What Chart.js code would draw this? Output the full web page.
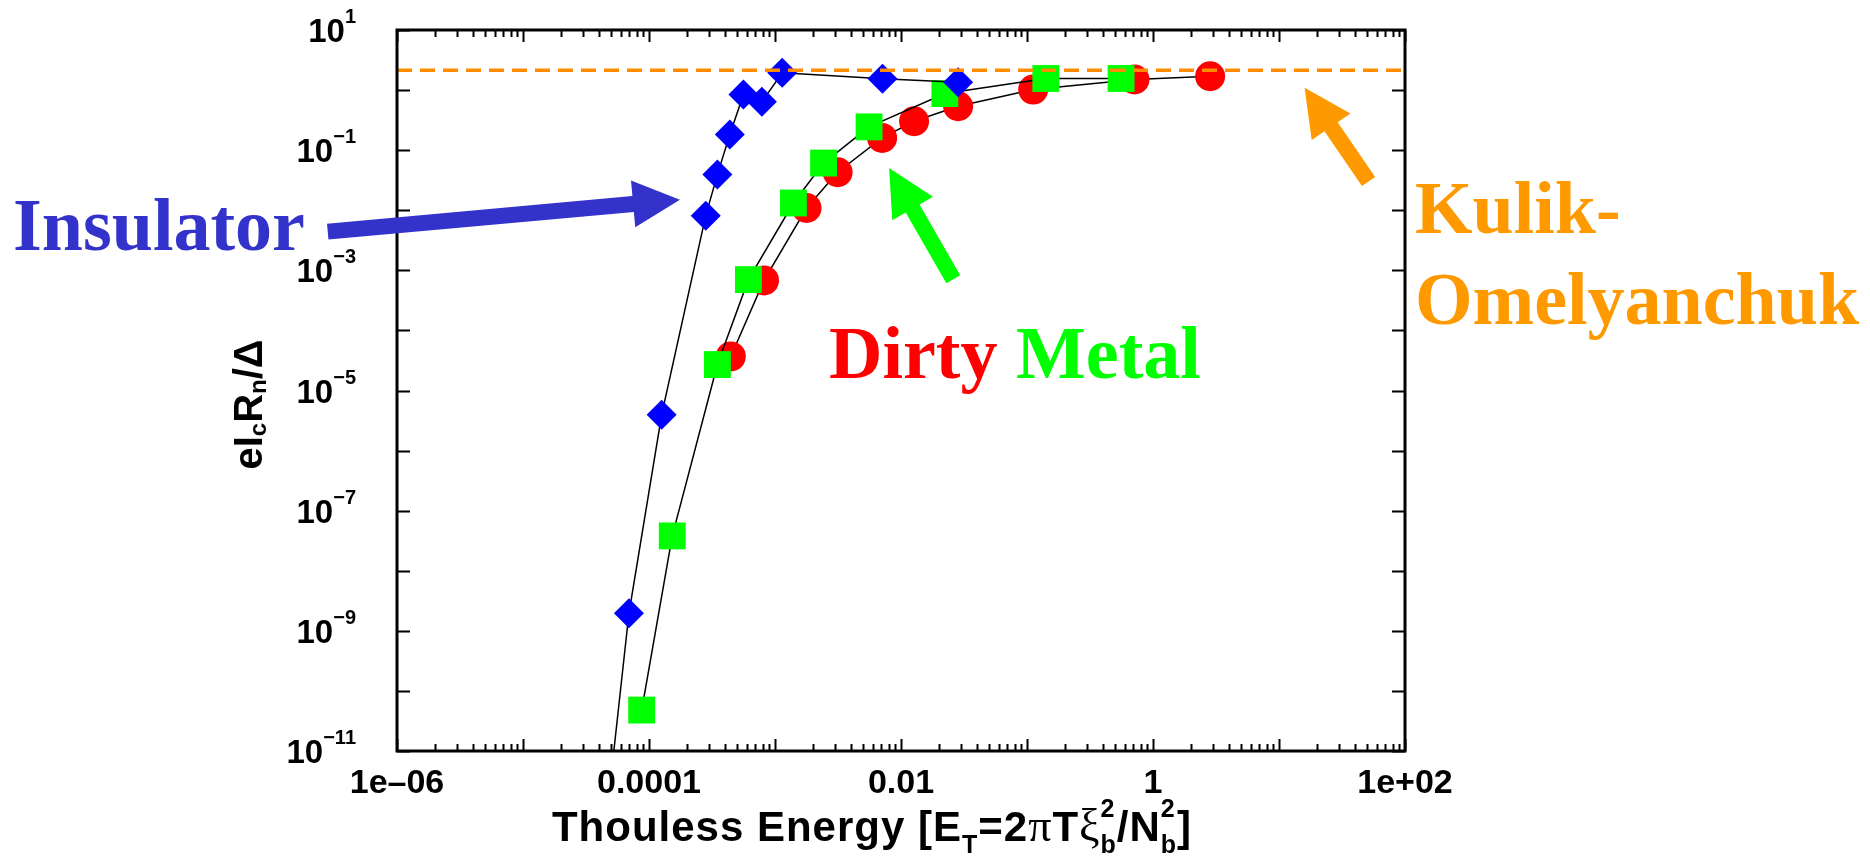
<!DOCTYPE html>
<html>
<head>
<meta charset="utf-8">
<title>Critical current vs Thouless energy</title>
<script src="https://cdn.jsdelivr.net/npm/chart.js@4.4.1/dist/chart.umd.min.js"></script>
<style>
  html, body { margin: 0; padding: 0; background: #fff; }
  canvas { display: block; }
</style>
</head>
<body>
<canvas id="chart" width="1870" height="856"></canvas>
<script>
// Insulator (blue diamonds); first point lies below the plotted range, only its line shows
const insulatorE  = [5.0e-5, 6.93e-5, 1.26e-4, 2.82e-4, 3.49e-4, 4.38e-4, 5.62e-4, 7.87e-4, 1.14e-3, 7.13e-3, 2.84e-2];
const insulatorIc = [3.8e-12, 1.96e-9, 3.94e-6, 8.13e-3, 3.92e-2, 0.182, 0.843, 0.637, 1.94, 1.54, 1.35];

// Metal (green squares)
const metalE  = [8.75e-5, 1.53e-4, 3.49e-4, 6.15e-4, 1.40e-3, 2.43e-3, 5.58e-3, 2.23e-2, 0.141, 0.558];
const metalIc = [4.8e-11, 3.8e-8, 2.7e-5, 7.0e-4, 1.32e-2, 6.1e-2, 0.244, 0.875, 1.56, 1.56];

// Dirty metal (red circles)
const dirtyE  = [4.46e-4, 8.18e-4, 1.78e-3, 3.14e-3, 7.08e-3, 1.27e-2, 2.84e-2, 0.112, 0.713, 2.84];
const dirtyIc = [3.69e-5, 6.8e-4, 1.09e-2, 4.29e-2, 0.160, 0.303, 0.538, 1.02, 1.50, 1.70];

// Kulik-Omelyanchuk limit
const koLimit = 2.14;

const xRange = [1e-6, 1e2];
const yRange = [1e-11, 1e1];
const xTickValues = [1e-6, 1e-4, 1e-2, 1, 1e2];
const xTickLabels = ['1e\u201306', '0.0001', '0.01', '1', '1e+02'];
const yTickExps = [1, -1, -3, -5, -7, -9, -11];

const SANS = '"Liberation Sans", Arial, Helvetica, sans-serif';
const SERIF = '"Liberation Serif", "Times New Roman", serif';

// arrows point at data, so they live in data coordinates
const arrowNotes = [
  { from: [2.82e-7, 4.41e-3], to: [1.76e-4, 1.50e-2], color: '#3333cc' },
  { from: [2.60e-2, 7.13e-4], to: [8.05e-3, 5.07e-2], color: '#00ff00' },
  { from: [51.4, 3.0e-2], to: [15.96, 1.089], color: '#ff9900' }
];

const textNotes = [
  { x: 13, y: 250, parts: [{ t: 'Insulator', color: '#3333cc' }] },
  { x: 829, y: 378, parts: [{ t: 'Dirty ', color: '#ff0000' }, { t: 'Metal', color: '#00ff00' }] },
  { x: 1415, y: 233, parts: [{ t: 'Kulik-', color: '#ff9900' }] },
  { x: 1415, y: 324, parts: [{ t: 'Omelyanchuk', color: '#ff9900' }] }
];

function toPoints(xs, ys) {
  return xs.map((x, i) => ({ x: x, y: ys[i] }));
}

// small rich-text helper for sub/superscripts
function partFont(p, base) {
  return `${p.weight || base.weight} ${p.size || base.size}px ${p.family || base.family}`;
}
function measureParts(ctx, parts, base) {
  let w = 0;
  parts.forEach(p => {
    if (p.stack) {
      w += Math.max(...p.stack.map(q => { ctx.font = partFont(q, base); return ctx.measureText(q.t).width; }));
    } else {
      ctx.font = partFont(p, base);
      w += ctx.measureText(p.t).width;
    }
  });
  return w;
}
function drawParts(ctx, parts, x, y, base, align) {
  const w = measureParts(ctx, parts, base);
  let cx = align === 'center' ? x - w / 2 : align === 'right' ? x - w : x;
  ctx.textAlign = 'left';
  ctx.textBaseline = 'alphabetic';
  const one = q => {
    ctx.font = partFont(q, base);
    ctx.fillStyle = q.color || base.color;
    ctx.fillText(q.t, cx, y + (q.dy || 0));
    return ctx.measureText(q.t).width;
  };
  parts.forEach(p => {
    if (p.stack) cx += Math.max(...p.stack.map(one));
    else cx += one(p);
  });
}

function drawArrow(ctx, x0, y0, x1, y1, color) {
  const shaft = 16, headLen = 47, headW = 47;
  const dx = x1 - x0, dy = y1 - y0, L = Math.hypot(dx, dy);
  const ux = dx / L, uy = dy / L, nx = -uy, ny = ux;
  const bx = x1 - ux * headLen, by = y1 - uy * headLen;
  ctx.beginPath();
  ctx.moveTo(x0 + nx * shaft / 2, y0 + ny * shaft / 2);
  ctx.lineTo(bx + nx * shaft / 2, by + ny * shaft / 2);
  ctx.lineTo(bx + nx * headW / 2, by + ny * headW / 2);
  ctx.lineTo(x1, y1);
  ctx.lineTo(bx - nx * headW / 2, by - ny * headW / 2);
  ctx.lineTo(bx - nx * shaft / 2, by - ny * shaft / 2);
  ctx.lineTo(x0 - nx * shaft / 2, y0 - ny * shaft / 2);
  ctx.closePath();
  ctx.fillStyle = color;
  ctx.fill();
}

// Frame, inward ticks, tick labels with exponents, axis titles and callouts
const framePlugin = {
  id: 'frame',
  afterDraw(chart) {
    const ctx = chart.ctx;
    const ca = chart.chartArea;
    const xs = chart.scales.x, ys = chart.scales.y;
    ctx.save();

    ctx.strokeStyle = '#000';
    ctx.lineWidth = 2;
    ctx.beginPath();
    for (let e = -6; e <= 2; e++) {
      for (let m = 1; m <= 9; m++) {
        const v = m * Math.pow(10, e);
        if (v > xRange[1] * 1.0001) break;
        const px = Math.round(xs.getPixelForValue(v)) + 0.5;
        const len = m === 1 ? 12 : 7;
        ctx.moveTo(px, ca.bottom); ctx.lineTo(px, ca.bottom - len);
        ctx.moveTo(px, ca.top); ctx.lineTo(px, ca.top + len);
      }
    }
    for (let e = -11; e <= 1; e++) {
      const py = Math.round(ys.getPixelForValue(Math.pow(10, e))) + 0.5;
      ctx.moveTo(ca.left, py); ctx.lineTo(ca.left + 13, py);
      ctx.moveTo(ca.right, py); ctx.lineTo(ca.right - 13, py);
    }
    ctx.stroke();

    ctx.lineWidth = 3;
    ctx.strokeRect(ca.left, ca.top, ca.right - ca.left, ca.bottom - ca.top);

    // y tick labels 10^n
    const tickBase = { weight: 'bold', size: 33, family: SANS, color: '#000' };
    yTickExps.forEach(e => {
      const py = ys.getPixelForValue(Math.pow(10, e));
      const expStr = e < 0 ? '\u2212' + Math.abs(e) : String(e);
      drawParts(ctx, [{ t: '10' }, { t: expStr, size: 20, dy: -19 }], ca.left - 41, py + 12, tickBase, 'right');
    });

    // x axis title
    const tBase = { weight: 'bold', size: 42, family: SANS, color: '#000' };
    const sub = t => ({ t: t, size: 25, dy: 12 });
    const sup = t => ({ t: t, size: 25, dy: -24 });
    ctx.letterSpacing = '1px';
    drawParts(ctx, [
      { t: 'Thouless Energy [E' }, sub('T'), { t: '=2' },
      { t: '\u03c0', family: SERIF, weight: 'normal', size: 46 }, { t: 'T' },
      { t: '\u03be', family: SERIF, weight: 'normal', size: 46 },
      { stack: [sub('b'), sup('2')] }, { t: '/N' },
      { stack: [sub('b'), sup('2')] }, { t: ']' }
    ], (ca.left + ca.right) / 2 - 29, ca.bottom + 90, tBase, 'center');
    ctx.letterSpacing = '0px';

    // y axis title, rotated
    ctx.save();
    ctx.translate(ca.left - 135, (ca.top + ca.bottom) / 2 + 14);
    ctx.rotate(-Math.PI / 2);
    drawParts(ctx, [
      { t: 'eI' }, { t: 'c', size: 24, dy: 4 }, { t: 'R' }, { t: 'n', size: 24, dy: 4 }, { t: '/\u0394' }
    ], 0, 0, { weight: 'bold', size: 40, family: SANS, color: '#000' }, 'center');
    ctx.restore();

    // callout arrows and labels
    arrowNotes.forEach(a => {
      drawArrow(ctx,
        xs.getPixelForValue(a.from[0]), ys.getPixelForValue(a.from[1]),
        xs.getPixelForValue(a.to[0]), ys.getPixelForValue(a.to[1]), a.color);
    });
    const noteBase = { weight: 'bold', size: 74, family: SERIF, color: '#000' };
    textNotes.forEach(n => drawParts(ctx, n.parts, n.x, n.y, noteBase, 'left'));

    ctx.restore();
  }
};

const seriesStyle = (color, style, radius) => ({
  showLine: true,
  borderColor: '#000',
  borderWidth: 1.5,
  pointStyle: style,
  pointRadius: radius,
  pointHoverRadius: radius,
  pointBackgroundColor: color,
  pointBorderColor: color,
  pointBorderWidth: 0
});

new Chart(document.getElementById('chart'), {
  type: 'scatter',
  data: {
    datasets: [
      {
        label: 'Kulik-Omelyanchuk',
        data: [{ x: xRange[0], y: koLimit }, { x: xRange[1], y: koLimit }],
        showLine: true,
        borderColor: '#ff8c00',
        borderWidth: 3.5,
        borderDash: [15, 8],
        pointRadius: 0
      },
      Object.assign({ label: 'Insulator', data: toPoints(insulatorE, insulatorIc) }, seriesStyle('#0000ff', 'rectRot', 15)),
      Object.assign({ label: 'Metal', data: toPoints(metalE, metalIc) }, seriesStyle('#00ff00', 'rect', 19)),
      Object.assign({ label: 'Dirty', data: toPoints(dirtyE, dirtyIc) }, seriesStyle('#ff0000', 'circle', 15))
    ]
  },
  options: {
    responsive: false,
    animation: false,
    events: [],
    layout: { padding: { top: 30, right: 465, left: 0, bottom: 0 } },
    plugins: { legend: { display: false }, tooltip: { enabled: false } },
    scales: {
      x: {
        type: 'logarithmic',
        min: xRange[0],
        max: xRange[1],
        grid: { display: false, drawTicks: false },
        border: { display: false },
        ticks: {
          autoSkip: false,
          maxRotation: 0,
          padding: 12,
          color: '#000',
          font: { family: SANS, size: 34, weight: 'bold' },
          callback: (v, i) => xTickLabels[i]
        },
        afterBuildTicks: s => { s.ticks = xTickValues.map(v => ({ value: v })); },
        afterFit: s => { s.height = 105; }
      },
      y: {
        type: 'logarithmic',
        min: yRange[0],
        max: yRange[1],
        grid: { display: false, drawTicks: false },
        border: { display: false },
        ticks: { display: false },
        afterFit: s => { s.width = 397; }
      }
    }
  },
  plugins: [framePlugin]
});
</script>
</body>
</html>
